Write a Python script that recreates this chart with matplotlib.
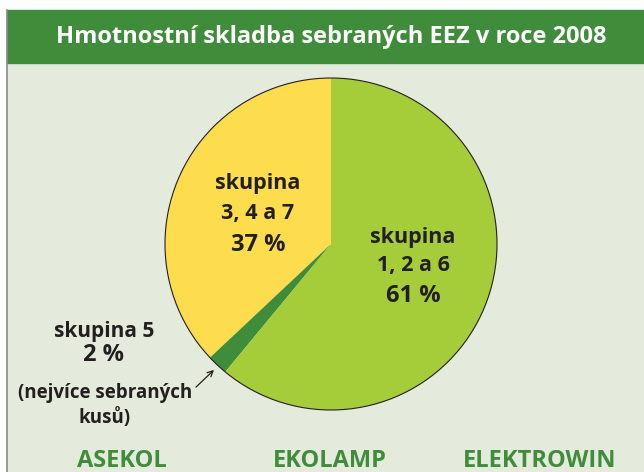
import matplotlib.pyplot as plt
from matplotlib.patches import Rectangle, Circle

plt.rcParams['font.family'] = ['Open Sans', 'DejaVu Sans']

title = "Hmotnostní skladba sebraných EEZ v roce 2008"
groups = ["skupina 3, 4 a 7", "skupina 5", "skupina 1, 2 a 6"]
shares = [37, 2, 61]
colors = ['#fddc4e', '#3f8c3a', '#a5cd3a']
companies = ["ASEKOL", "EKOLAMP", "ELEKTROWIN"]

W, H = 644, 472
fig = plt.figure(figsize=(W / 100, H / 100), dpi=100)
ax = fig.add_axes([0, 0, 1, 1])

def Y(y):
    # pixel row (from top) -> data y
    return H - y

# frame
ax.add_patch(Rectangle((8, 0), W - 8, Y(63), color='#e5ebdc', zorder=0))
ax.add_patch(Rectangle((7, Y(63)), W - 7, 53, color='#3f8c3a', zorder=1))
ax.plot([7.5, 7.5], [0, Y(10)], color='#8a8a8a', lw=1.2, zorder=2)
ax.text(331, Y(37), title, color='white', fontsize=17, fontweight='bold',
        ha='center', va='center', zorder=3)

# pie
cx, cy, r = 331, Y(244), 166
ax.pie(shares, colors=colors, startangle=90, counterclock=True,
       center=(cx, cy), radius=r, wedgeprops=dict(linewidth=0))
ax.add_patch(Circle((cx, cy), r, fill=False, edgecolor='#231f20', lw=0.8, zorder=5))

dark = '#231f20'
kw = dict(color=dark, fontweight='bold', ha='center', va='center')
ax.text(258, Y(184), "skupina", fontsize=15.5, **kw)
ax.text(258, Y(213), "3, 4 a 7", fontsize=15.5, **kw)
ax.text(258, Y(245), "%d %%" % shares[0], fontsize=17, **kw)

ax.text(413, Y(237), "skupina", fontsize=15.5, **kw)
ax.text(413, Y(265), "1, 2 a 6", fontsize=15.5, **kw)
ax.text(413, Y(296), "%d %%" % shares[2], fontsize=17, **kw)

ax.text(104, Y(331), "skupina 5", fontsize=15, **kw)
ax.text(104, Y(355), "%d %%" % shares[1], fontsize=17, **kw)
ax.text(105, Y(393), "(nejvíce sebraných", fontsize=13.5, **kw)
ax.text(105, Y(418), "kusů)", fontsize=13.5, **kw)
ax.annotate("", xy=(216, Y(368)), xytext=(194, Y(389)),
            arrowprops=dict(arrowstyle='->', color=dark, lw=0.9))

for x, name in zip([122, 330, 540], companies):
    ax.text(x, Y(461), name, color='#3f8c3a', fontsize=17, fontweight='bold',
            ha='center', va='center')

ax.set_xlim(0, W)
ax.set_ylim(0, H)
ax.set_aspect('equal')
ax.axis('off')
fig.savefig('out.png', dpi=100, facecolor='white')
